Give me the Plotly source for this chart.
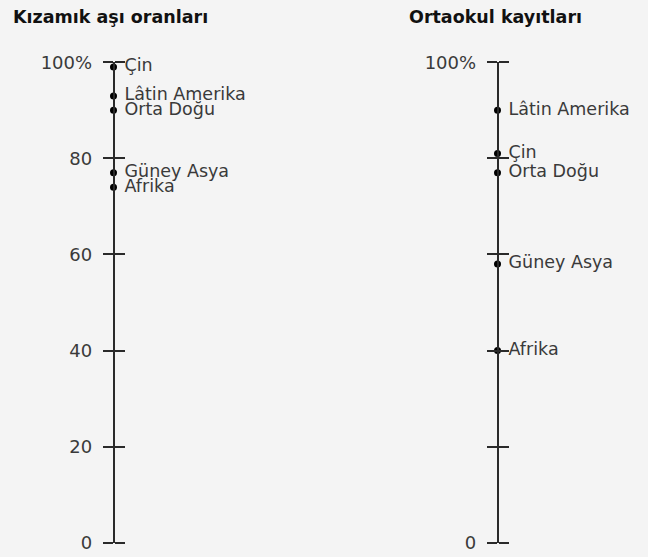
import plotly.graph_objects as go

regions_left = ["Çin", "Lâtin Amerika", "Orta Doğu", "Güney Asya", "Afrika"]
values_left = [99, 93, 90, 77, 74]
regions_right = ["Lâtin Amerika", "Çin", "Orta Doğu", "Güney Asya", "Afrika"]
values_right = [90, 81, 77, 58, 40]
tick_vals = [0, 20, 40, 60, 80, 100]
tick_text_left = ["0", "20", "40", "60", "80", "100%"]
tick_text_right = ["0", "", "", "", "", "100%"]
title_left = "Kızamık aşı oranları"
title_right = "Ortaokul kayıtları"

FONT = "DejaVu Sans"
INK = "#2a2a2a"
TXT = "#3a3a3a"
BG = "#f4f4f4"
W, H = 648, 557
xl = 113.5 / W
xr = 497.5 / W
ydom = [14.3 / H, 494.7 / H]

fig = go.Figure()
for vals, labs, xa, ya in [(values_left, regions_left, "x", "y"),
                           (values_right, regions_right, "x2", "y2")]:
    # labels (invisible wide marker to set the gap from the axis)
    fig.add_trace(go.Scatter(x=[0] * len(vals), y=vals, text=labs,
                             mode="markers+text", textposition="middle right",
                             marker=dict(color="rgba(0,0,0,0)", size=16),
                             textfont=dict(family=FONT, size=17.5, color=TXT),
                             xaxis=xa, yaxis=ya, cliponaxis=False, hoverinfo="skip"))
    # dots
    fig.add_trace(go.Scatter(x=[0] * len(vals), y=vals, mode="markers",
                             marker=dict(color="black", size=7),
                             xaxis=xa, yaxis=ya, cliponaxis=False, hoverinfo="skip"))
fig.add_trace(go.Scatter(x=[0], y=[0], mode="markers", marker=dict(opacity=0),
                         xaxis="x", yaxis="y3", hoverinfo="skip"))
fig.add_trace(go.Scatter(x=[0], y=[0], mode="markers", marker=dict(opacity=0),
                         xaxis="x2", yaxis="y4", hoverinfo="skip"))

xcommon = dict(range=[0, 1], visible=False, fixedrange=True, automargin=False)
ycommon = dict(range=[0, 100], tickvals=tick_vals, ticks="outside", ticklen=10,
               tickwidth=1.5, tickcolor=INK, showgrid=False, zeroline=False,
               automargin=False, fixedrange=True, ticklabelstandoff=7,
               tickfont=dict(family=FONT, size=18, color=TXT), domain=ydom)

fig.update_layout(
    template="none",
    width=W, height=H, showlegend=False, autosize=False,
    paper_bgcolor=BG, plot_bgcolor=BG,
    margin=dict(l=0, r=0, t=0, b=0, pad=0),
    xaxis=dict(domain=[xl, 0.55], anchor="y", **xcommon),
    xaxis2=dict(domain=[xr, 0.999], anchor="y2", **xcommon),
    yaxis=dict(anchor="free", position=xl, side="left", showline=True,
               linecolor=INK, linewidth=1.5, ticktext=tick_text_left, **ycommon),
    yaxis2=dict(anchor="free", position=xr, side="left", showline=True,
                linecolor=INK, linewidth=1.5, ticktext=tick_text_right, **ycommon),
    yaxis3=dict(anchor="free", position=xl, side="right", overlaying="y",
                showline=False, showticklabels=False, ticktext=tick_text_left, **ycommon),
    yaxis4=dict(anchor="free", position=xr, side="right", overlaying="y2",
                showline=False, showticklabels=False, ticktext=tick_text_right, **ycommon),
    annotations=[
        dict(text="<b>" + title_left + "</b>", x=11 / W, y=1 - 17 / H, xref="paper", yref="paper",
             xanchor="left", yanchor="middle", showarrow=False,
             font=dict(family=FONT, size=17.5, color="#111111")),
        dict(text="<b>" + title_right + "</b>", x=407 / W, y=1 - 17 / H, xref="paper", yref="paper",
             xanchor="left", yanchor="middle", showarrow=False,
             font=dict(family=FONT, size=17.5, color="#111111")),
    ],
)
fig.write_html("out.html", config={"displayModeBar": False},
               post_script="document.body.style.margin='0';document.body.style.background='#f4f4f4';document.body.style.overflow='hidden';")
